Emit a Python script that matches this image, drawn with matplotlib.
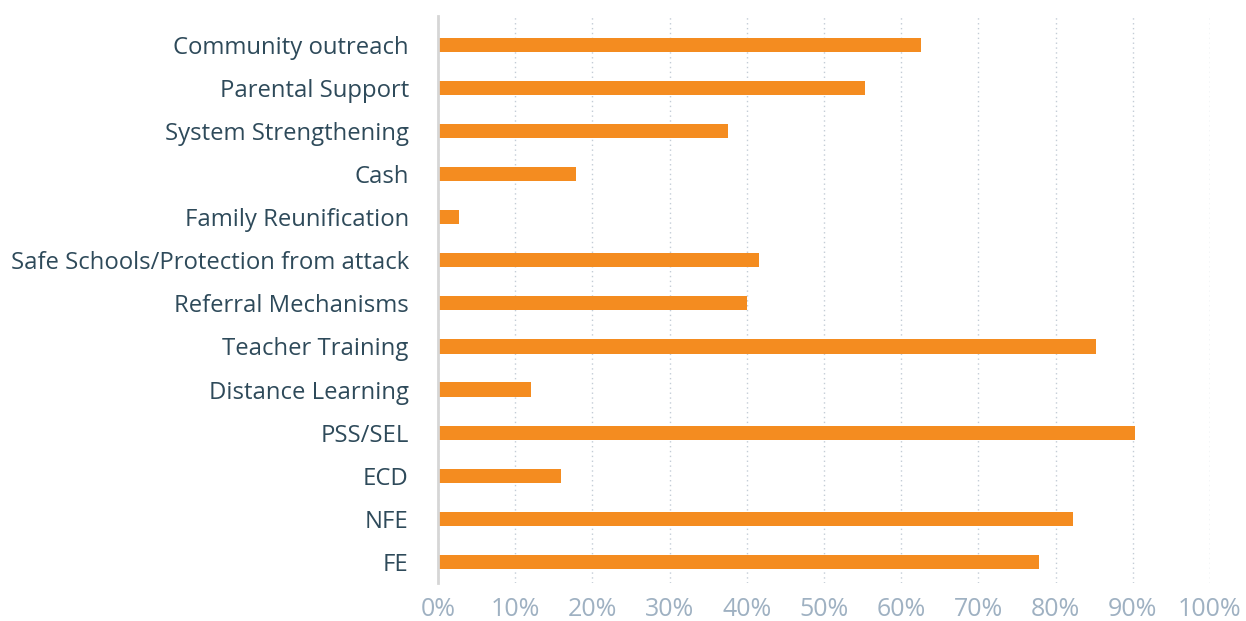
import numpy as np
import matplotlib.pyplot as plt

categories = ['Community outreach', 'Parental Support', 'System Strengthening', 'Cash',
              'Family Reunification', 'Safe Schools/Protection from attack',
              'Referral Mechanisms', 'Teacher Training', 'Distance Learning',
              'PSS/SEL', 'ECD', 'NFE', 'FE']
values = [62.6, 55.3, 37.6, 17.9, 2.7, 41.6, 40.0, 85.2, 12.0, 90.3, 15.9, 82.2, 77.8]
x_ticks = list(range(0, 101, 10))
x_tick_labels = [f'{t}%' for t in x_ticks]

plt.rcParams['font.family'] = ['Open Sans', 'DejaVu Sans']

fig = plt.figure(figsize=(12.46, 6.21), dpi=100)
ax = fig.add_axes([0.3515, 0.0612, 0.9711 - 0.3515, 0.9742 - 0.0612])

y = np.arange(len(categories))
ax.barh(y, values, height=0.33, color='#F48C20')

ax.set_ylim(len(categories) - 1 + 0.49, -0.67)
ax.set_xlim(0, 100)
ax.set_yticks(y)
ax.set_yticklabels(categories, fontsize=17.2, color='#2E4A5A')
ax.set_xticks(x_ticks)
ax.set_xticklabels(x_tick_labels, fontsize=18, color='#9FB1C2')
ax.tick_params(axis='both', length=0)
ax.tick_params(axis='y', pad=21)
ax.tick_params(axis='x', pad=10)

# dotted vertical gridlines
ax.grid(axis='x', color='#C3CCD6', linestyle=(0, (1, 2.5)), linewidth=1)
ax.set_axisbelow(True)

for side in ['top', 'right', 'bottom']:
    ax.spines[side].set_visible(False)
ax.spines['left'].set_color('#D6D6D6')
ax.spines['left'].set_linewidth(2)

fig.savefig('out.png', dpi=100)
